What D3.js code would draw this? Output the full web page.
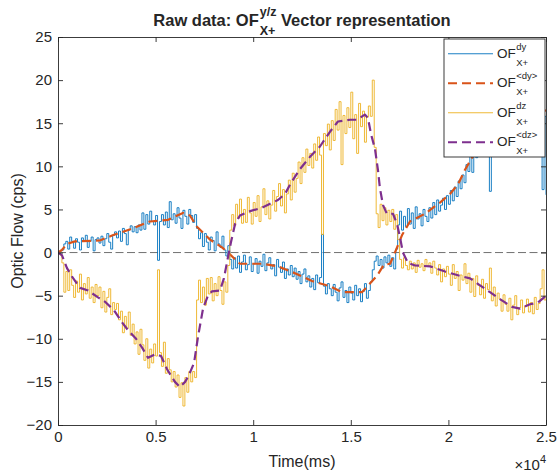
<!DOCTYPE html>
<html>
<head>
<meta charset="utf-8">
<script src="https://cdn.jsdelivr.net/npm/d3@7"></script>
<style>
  body { margin: 0; background: #fff; }
  svg { display: block; font-family: "Liberation Sans", Arial, Helvetica, sans-serif; }
</style>
</head>
<body>
<svg id="chart" width="560" height="475"></svg>
<script>
// Sampling interval of the raw optic-flow recordings (ms)
const STEP = 100;

// Raw OF dy, one value every STEP ms from 0 to 25000 ms
const dyRaw = [
  0, 0.2, 0.3, 1.0, 1.3, 0.4, 1.8, 1.3, 0.5, 1.6,
  1.2, 0.3, 1.7, 1.4, 2.0, 0.6, 1.3, 1.8, 0.2, 1.5,
  1.7, 1.1, 1.9, 0.8, 1.6, 2.2, 1.2, 0.4, 2.0, 2.4,
  1.7, 2.5, 1.3, 2.8, 2.2, 0.9, 2.6, 3.1, 2.4, 3.0,
  2.3, 3.2, 2.6, 4.6, 2.7, 4.4, 3.3, 4.8, 3.6, 3.2,
  4.3, -0.9, 3.6, 4.4, 3.2, 4.7, 2.9, 5.9, 3.8, 4.5,
  3.4, 5.2, 4.0, 2.8, 4.9, 4.2, 3.3, 5.0, 4.3, 3.5,
  4.4, 2.8, 1.6, 2.3, 0.7, 2.2, 1.2, 0.3, 1.8, 1.4,
  0.2, 2.4, 1.0, 0.6, 1.9, 0.3, -0.4, 0.8, -0.8, -1.9,
  -0.6, -1.8, -0.4, -2.3, -1.1, -0.3, -2.0, -1.4, -0.5, -2.2,
  -1.3, -0.7, -2.4, -1.0, -1.6, -0.2, -2.1, -1.2, -0.6, -1.9,
  -1.4, -2.7, -0.8, -1.7, -2.3, -1.1, -3.0, -1.9, -2.6, -1.5,
  -2.8, -1.8, -3.1, -2.2, -3.6, -2.5, -1.9, -3.4, -2.7, -4.0,
  -3.0, -4.3, -2.6, -3.5, -2.9, 2.1, -3.9, -4.8, -3.6, -4.2,
  -5.0, -3.7, -4.6, -5.6, -4.1, -3.4, -5.2, -4.4, -5.8, -4.0,
  -4.7, -5.5, -3.8, -5.0, -4.2, -5.7, -4.5, -3.6, -5.3, -4.4,
  -3.4, -2.0, -1.0, -0.4, -1.5, -0.8, -1.8, -0.5, -1.2, -0.3,
  -1.6, -0.6, -1.9, 0.4, 3.2, 4.8, 2.6, 4.2, 3.0, 5.1,
  3.3, 4.6, 2.8, 5.3, 3.9, 4.5, 3.1, 5.0, 4.2, 3.6,
  5.2, 4.0, 5.8, 4.4, 6.1, 4.8, 5.5, 6.3, 5.0, 6.6,
  5.6, 7.2, 6.0, 7.6, 6.5, 8.3, 7.4, 9.0, 8.1, 10.2,
  9.4, 11.2, 9.3, 12.0, 11.0, 12.8, 11.8, 13.5, 12.4, 13.2,
  13.8, 7.1, 13.0, 14.2, 13.4, 14.8, 13.9, 15.0, 14.1, 15.3,
  14.6, 15.6, 14.9, 16.0, 15.2, 16.3, 15.5, 14.8, 16.1, 15.4,
  16.2, 15.3, 16.6, 15.8, 16.9, 15.9, 16.4, 16.0, 7.3, 15.8,
  6.7
];

// Raw OF dz, same sampling
const dzRaw = [
  0, -0.3, -1.2, -4.6, -2.2, -4.4, -2.0, -3.8, -5.2, -3.3,
  -4.6, -2.5, -5.5, -3.6, -4.8, -2.9, -5.3, -4.0, -5.8, -3.7,
  -5.0, -4.0, -6.4, -4.5, -6.9, -5.2, -4.2, -7.2, -5.8, -6.6,
  -5.9, -7.8, -6.8, -9.3, -7.4, -8.8, -6.9, -9.6, -8.3, -10.6,
  -9.2, -11.8, -8.9, -10.7, -12.5, -10.0, -13.4, -11.2, -12.8, -10.6,
  -12.0, -2.0, -11.6, -13.2, -10.4, -14.0, -12.3, -13.6, -15.0, -13.8,
  -15.6, -14.2, -16.8, -15.1, -17.8, -14.5, -16.2, -13.8, -15.0, -13.8,
  -14.5, -5.5, -3.2, -5.8, -4.0, -6.1, -3.0, -4.8, -2.9, -5.6,
  -3.6, -5.0, -2.8, -4.4, -6.0, -3.4, -4.6, -1.5, 2.6, 4.4,
  3.1, 5.6, 4.0, 6.2, 3.4, 5.0, 3.5, 6.4, 4.6, 3.3,
  5.8, 4.2, 6.6, 3.6, 5.3, 7.4, 4.4, 6.0, 3.9, 5.5,
  7.2, 4.8, 6.5, 8.0, 5.4, 7.3, 4.6, 6.8, 8.4, 6.1,
  9.2, 7.0, 8.6, 10.5, 8.0, 11.0, 9.3, 12.0, 10.1, 11.5,
  9.8, 12.6, 10.7, 13.4, 11.3, 2.1, 13.8, 12.4, 14.9, 11.9,
  15.3, 13.0, 16.6, 14.2, 17.5, 10.2, 15.9, 13.8, 16.8, 14.5,
  18.6, 13.2, 16.0, 11.5, 17.3, 14.6, 16.4, 12.8, 15.7, 17.0,
  15.8, 20.0, 12.2, 4.5, 2.9, 5.6, 3.7, 5.2, 3.2, 4.9,
  3.6, 5.0, 2.7, 4.4, 1.5, -0.8, -1.8, -0.6, -1.5, -2.0,
  -1.0, -1.9, -1.2, -2.3, -0.9, -1.7, -1.3, -2.1, -0.8, -1.6,
  -1.2, -2.4, -1.0, -1.8, -2.6, -1.4, -3.4, -1.9, -2.8, -1.6,
  -2.5, -3.8, -1.4, -3.0, -2.2, -4.4, -2.6, -3.2, -1.3, -3.6,
  -2.4, -4.6, -3.0, -5.1, -2.7, -3.8, -4.9, -3.1, -5.3, -3.6,
  -4.3, -1.8, -5.6, -4.0, -6.2, -4.7, -5.4, -6.8, -4.9, -6.0,
  -6.8, -5.3, -7.8, -6.1, -5.0, -7.2, -6.4, -5.5, -7.0, -6.2,
  -5.4, -6.9, -5.8, -7.1, -5.2, -6.6, -5.9, -4.2, -2.0, -5.5,
  -5.0
];

// Smoothed OF <dy>: sample times (ms) and values
const dySmoothT = [0, 200, 460, 870, 2150, 2800, 3700, 4700, 5640, 6400, 6760, 7120, 7790, 8400, 8710,
  9320, 10450, 11270, 12140, 13010, 13930, 14550, 15570, 15980, 16340, 16700, 17010, 17260, 17620,
  18030, 18800, 19570, 20080, 20490, 20850, 21210, 21880, 22640, 23670, 25000];
const dySmoothV = [0, 0.3, 1.0, 1.3, 1.4, 2.0, 2.7, 3.6, 3.8, 4.6, 4.3, 3.0, 1.5, 0.6, 0,
  -1.3, -1.3, -1.6, -2.4, -3.3, -3.9, -4.6, -4.6, -3.6, -2.7, -1.4, -1.3, 0, 2.0,
  3.6, 4.5, 5.8, 6.8, 7.9, 9.6, 11, 13, 14.5, 15.5, 16.5];

// Smoothed OF <dz>: sample times (ms) and values
const dzSmoothT = [0, 200, 460, 720, 1130, 1540, 2050, 2410, 2870, 3280, 3590, 4000, 4300, 4610, 4970,
  5280, 5580, 5990, 6250, 6510, 6710, 6970, 7170, 7430, 7680, 7890, 8300, 8500, 8710, 8860, 9070,
  9320, 9840, 10450, 11270, 11630, 11890, 12400, 12910, 13420, 13930, 14340, 14960, 15320, 15720,
  15880, 16030, 16240, 16390, 16490, 16650, 16850, 17160, 17370, 17520, 17670, 17930, 18290, 19060,
  19830, 20590, 21110, 21620, 22130, 22640, 23260, 23670, 24180, 24590, 25000];
const dzSmoothV = [0, -0.3, -1.8, -2.8, -4.1, -4.4, -5.2, -5.7, -6.7, -8.1, -9.0, -10.0, -11.0, -12.2, -11.8,
  -12.0, -13.5, -15.0, -15.6, -15.0, -14.2, -12.8, -9.8, -6.5, -5.0, -4.5, -4.4, -3.0, -0.5, 1.2, 3.3,
  4.3, 4.8, 5.2, 6.1, 6.8, 7.9, 9.7, 11.1, 12.3, 14.0, 15.2, 15.4, 15.4, 16.0,
  15.6, 13.8, 12.0, 9.6, 7.5, 5.5, 4.5, 4.5, 3.3, 1.8, 0, -1.2, -1.5, -1.6,
  -2.2, -2.7, -3.0, -3.8, -4.6, -5.4, -6.3, -6.5, -6.0, -5.8, -5.0];

// Axis ticks
const xTicks = [0, 5000, 10000, 15000, 20000, 25000];
const xTickLabels = ["0", "0.5", "1", "1.5", "2", "2.5"];
const yTicks = [-20, -15, -10, -5, 0, 5, 10, 15, 20, 25];

// Series styling and legend text (superscript part of each label)
const seriesSup = ["dy", "<dy>", "dz", "<dz>"];
const seriesColor = ["#0072BD", "#D95319", "#EDB120", "#7E2F8E"];

const svg = d3.select("#chart");
const plot = { left: 58, right: 546, top: 37, bottom: 425 };
const axisColor = "#262626";
const font = '"Liberation Sans", Arial, Helvetica, sans-serif';

const x = d3.scaleLinear().domain([0, 25000]).range([plot.left, plot.right]);
const y = d3.scaleLinear().domain([-20, 25]).range([plot.bottom, plot.top]);

svg.append("rect").attr("width", 560).attr("height", 475).attr("fill", "#fff");

svg.append("defs").append("clipPath").attr("id", "plot-clip")
  .append("rect")
  .attr("x", plot.left).attr("y", plot.top)
  .attr("width", plot.right - plot.left).attr("height", plot.bottom - plot.top);

const rawPoints = arr => arr.map((v, i) => ({ t: i * STEP, v }));
const knotPoints = (ts, vs) => ts.map((t, i) => ({ t, v: vs[i] }));
// sensor output is held between samples, so raw traces are drawn as steps
const rawLine = d3.line().x(d => x(d.t)).y(d => y(d.v)).curve(d3.curveStepAfter);
const smoothLine = d3.line().x(d => x(d.t)).y(d => y(d.v));

const g = svg.append("g").attr("clip-path", "url(#plot-clip)");

// zero reference
g.append("line")
  .attr("x1", x(0)).attr("x2", x(25000))
  .attr("y1", y(0)).attr("y2", y(0))
  .attr("stroke", "#4d4d4d").attr("stroke-width", 0.8)
  .attr("stroke-dasharray", "8,3.5");

const series = [
  { pts: rawPoints(dyRaw), gen: rawLine, color: seriesColor[0], width: 0.9, dash: null },
  { pts: knotPoints(dySmoothT, dySmoothV), gen: smoothLine, color: seriesColor[1], width: 2.2, dash: "9,5" },
  { pts: rawPoints(dzRaw), gen: rawLine, color: seriesColor[2], width: 0.9, dash: null },
  { pts: knotPoints(dzSmoothT, dzSmoothV), gen: smoothLine, color: seriesColor[3], width: 2.2, dash: "9,5" }
];

series.forEach(s => {
  g.append("path")
    .datum(s.pts)
    .attr("d", s.gen)
    .attr("fill", "none")
    .attr("stroke", s.color)
    .attr("stroke-width", s.width)
    .attr("stroke-linejoin", "round")
    .attr("stroke-dasharray", s.dash);
});

// Axes (box with inward ticks on all four sides)
function styleAxis(sel) {
  sel.selectAll("path.domain").attr("stroke", axisColor).attr("stroke-width", 0.9);
  sel.selectAll(".tick line").attr("stroke", axisColor).attr("stroke-width", 0.9);
  sel.selectAll(".tick text").attr("fill", axisColor).attr("font-size", 15).attr("font-family", font);
}

svg.append("g").attr("transform", `translate(0,${plot.bottom})`)
  .call(d3.axisBottom(x).tickValues(xTicks).tickFormat((d, i) => xTickLabels[i])
    .tickSize(-5).tickSizeOuter(0).tickPadding(6))
  .call(styleAxis);

svg.append("g").attr("transform", `translate(0,${plot.top})`)
  .call(d3.axisTop(x).tickValues(xTicks).tickFormat("").tickSize(-5).tickSizeOuter(0))
  .call(styleAxis);

svg.append("g").attr("transform", `translate(${plot.left},0)`)
  .call(d3.axisLeft(y).tickValues(yTicks).tickSize(-5).tickSizeOuter(0).tickPadding(6))
  .call(styleAxis);

svg.append("g").attr("transform", `translate(${plot.right},0)`)
  .call(d3.axisRight(y).tickValues(yTicks).tickFormat("").tickSize(-5).tickSizeOuter(0))
  .call(styleAxis);

// Axis labels
svg.append("text")
  .attr("x", (plot.left + plot.right) / 2).attr("y", 467)
  .attr("text-anchor", "middle").attr("font-size", 16).attr("fill", axisColor)
  .text("Time(ms)");

svg.append("text")
  .attr("transform", `translate(23,${(plot.top + plot.bottom) / 2}) rotate(-90)`)
  .attr("text-anchor", "middle").attr("font-size", 16).attr("fill", axisColor)
  .text("Optic Flow (cps)");

// x-axis exponent
const expo = svg.append("text").attr("x", 546).attr("y", 470)
  .attr("text-anchor", "end").attr("font-size", 15).attr("fill", axisColor);
expo.append("tspan").text("\u00d710");
expo.append("tspan").attr("dy", -7).attr("font-size", 11).text("4");

// Text with stacked superscript/subscript after a base string
function scripted(parent, xPos, yPos, base, sup, sub, opts) {
  const grp = parent.append("g");
  const t1 = grp.append("text").attr("x", xPos).attr("y", yPos)
    .attr("font-size", opts.size).attr("font-weight", opts.weight).attr("fill", axisColor).text(base);
  const w1 = t1.node().getComputedTextLength();
  const ts = grp.append("text").attr("x", xPos + w1 + opts.gap).attr("y", yPos - opts.supRaise)
    .attr("font-size", opts.small).attr("font-weight", opts.weight).attr("fill", axisColor).text(sup);
  const tb = grp.append("text").attr("x", xPos + w1 + opts.gap).attr("y", yPos + opts.subDrop)
    .attr("font-size", opts.small).attr("font-weight", opts.weight).attr("fill", axisColor).text(sub);
  const w2 = Math.max(ts.node().getComputedTextLength(), tb.node().getComputedTextLength());
  let total = w1 + opts.gap + w2;
  if (opts.tail) {
    const tt = grp.append("text").attr("x", xPos + total).attr("y", yPos)
      .attr("font-size", opts.size).attr("font-weight", opts.weight).attr("fill", axisColor)
      .style("white-space", "pre").text(opts.tail);
    total += tt.node().getComputedTextLength();
  }
  return { grp, total };
}

// Title, centred over the axes
const title = scripted(svg, 0, 26, "Raw data: OF", "y/z", "X+",
  { size: 16.5, small: 12.5, weight: "bold", gap: 1, supRaise: 10, subDrop: 9, tail: " Vector representation" });
title.grp.attr("transform", `translate(${(plot.left + plot.right) / 2 - title.total / 2},0)`);

// Legend
const legend = { x: 444, y: 39, w: 101, h: 118 };
svg.append("rect")
  .attr("x", legend.x).attr("y", legend.y).attr("width", legend.w).attr("height", legend.h)
  .attr("fill", "#fff").attr("stroke", axisColor).attr("stroke-width", 0.9);

const rowH = legend.h / seriesSup.length;
series.forEach((s, i) => {
  const cy = legend.y + rowH * (i + 0.5);
  svg.append("line")
    .attr("x1", legend.x + 4).attr("x2", legend.x + 49)
    .attr("y1", cy).attr("y2", cy)
    .attr("stroke", s.color).attr("stroke-width", s.dash ? 2.2 : 0.9)
    .attr("stroke-dasharray", s.dash);
  scripted(svg, legend.x + 53, cy + 4, "OF", seriesSup[i], "X+",
    { size: 13.5, small: 9.5, weight: "normal", gap: 0.5, supRaise: 8, subDrop: 8 });
});
</script>
</body>
</html>
